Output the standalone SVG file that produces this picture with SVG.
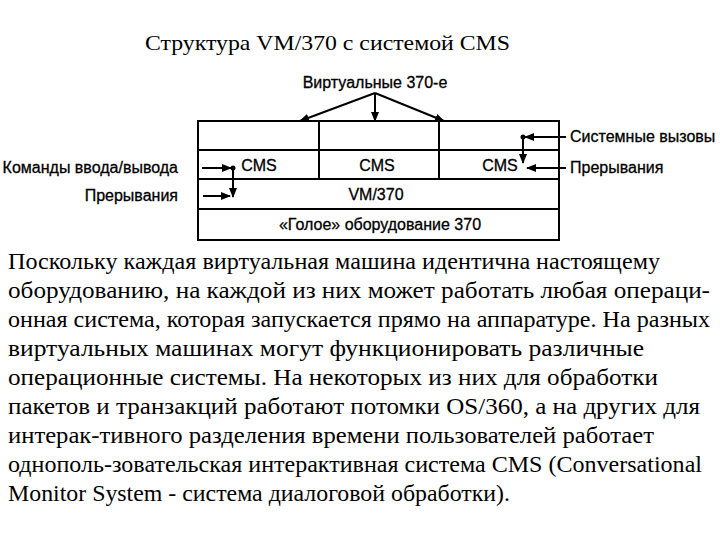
<svg xmlns="http://www.w3.org/2000/svg" width="720" height="540" viewBox="0 0 720 540">
<defs><marker id="ah" markerWidth="10" markerHeight="8" refX="9" refY="4" orient="auto" markerUnits="userSpaceOnUse"><path d="M0,0 L10,4 L0,8 Z" fill="#000"/></marker></defs>
<style>
.s{font-family:"Liberation Sans",Arial,sans-serif;font-size:16px;fill:#000;stroke:#000;stroke-width:0.3}
.t{font-family:"Liberation Serif","Times New Roman",serif;font-size:22.5px;fill:#000}
.l{stroke:#000;stroke-width:2;fill:none}
.a{stroke:#000;stroke-width:2;fill:none;marker-end:url(#ah)}
</style>
<rect width="720" height="540" fill="#fff"/>
<text class="t" x="145" y="50" style="font-size:21px" textLength="365" lengthAdjust="spacingAndGlyphs">Структура VM/370 с системой CMS</text>
<g id="boxes">
<rect class="l" x="198" y="121" width="361" height="119"/>
<line class="l" x1="198" y1="150" x2="559" y2="150"/>
<line class="l" x1="198" y1="179" x2="559" y2="179"/>
<line class="l" x1="198" y1="209" x2="559" y2="209"/>
<line class="l" x1="319" y1="121" x2="319" y2="179"/>
<line class="l" x1="439" y1="121" x2="439" y2="179"/>
</g>
<g id="labels">
<text class="s" x="375" y="88" text-anchor="middle">Виртуальные 370-е</text>
<text class="s" x="259" y="171" text-anchor="middle">CMS</text>
<text class="s" x="377" y="171" text-anchor="middle">CMS</text>
<text class="s" x="500" y="171" text-anchor="middle">CMS</text>
<text class="s" x="376" y="200" text-anchor="middle">VM/370</text>
<text class="s" x="380" y="230" text-anchor="middle">«Голое» оборудование 370</text>
<text class="s" x="570" y="142">Системные вызовы</text>
<text class="s" x="570" y="173">Прерывания</text>
<text class="s" x="178" y="173" text-anchor="end">Команды ввода/вывода</text>
<text class="s" x="178" y="201" text-anchor="end">Прерывания</text>
</g>
<g id="connectors">
<line class="a" x1="375" y1="93" x2="300" y2="121"/>
<line class="a" x1="375" y1="93" x2="375" y2="121"/>
<line class="a" x1="375" y1="93" x2="444" y2="121"/>
<line class="a" x1="566" y1="137" x2="525" y2="137"/>
<circle cx="523" cy="137" r="2.5"/>
<line class="a" x1="523" y1="137" x2="523" y2="163"/>
<line class="a" x1="566" y1="168" x2="527" y2="168"/>
<line class="a" x1="202" y1="168" x2="231" y2="168"/>
<circle cx="233" cy="168" r="2.5"/>
<line class="a" x1="233" y1="168" x2="233" y2="197"/>
<line class="a" x1="203" y1="196" x2="230" y2="196"/>
</g>
<g id="paragraph">
<text class="t" x="8" y="269" textLength="652" lengthAdjust="spacingAndGlyphs">Поскольку каждая виртуальная машина идентична настоящему</text>
<text class="t" x="8" y="298" textLength="702" lengthAdjust="spacingAndGlyphs">оборудованию, на каждой из них может работать любая операци-</text>
<text class="t" x="8" y="327" textLength="702" lengthAdjust="spacingAndGlyphs">онная система, которая запускается прямо на аппаратуре. На разных</text>
<text class="t" x="8" y="356" textLength="636" lengthAdjust="spacingAndGlyphs">виртуальных машинах могут функционировать различные</text>
<text class="t" x="8" y="385" textLength="650" lengthAdjust="spacingAndGlyphs">операционные системы. На некоторых из них для обработки</text>
<text class="t" x="8" y="414" textLength="692" lengthAdjust="spacingAndGlyphs">пакетов и транзакций работают потомки OS/360, а на других для</text>
<text class="t" x="8" y="443" textLength="646" lengthAdjust="spacingAndGlyphs">интерак-тивного разделения времени пользователей работает</text>
<text class="t" x="8" y="472" textLength="694" lengthAdjust="spacingAndGlyphs">однополь-зовательская интерактивная система CMS (Conversational</text>
<text class="t" x="8" y="501" textLength="502" lengthAdjust="spacingAndGlyphs">Monitor System - система диалоговой обработки).</text>
</g>
</svg>
